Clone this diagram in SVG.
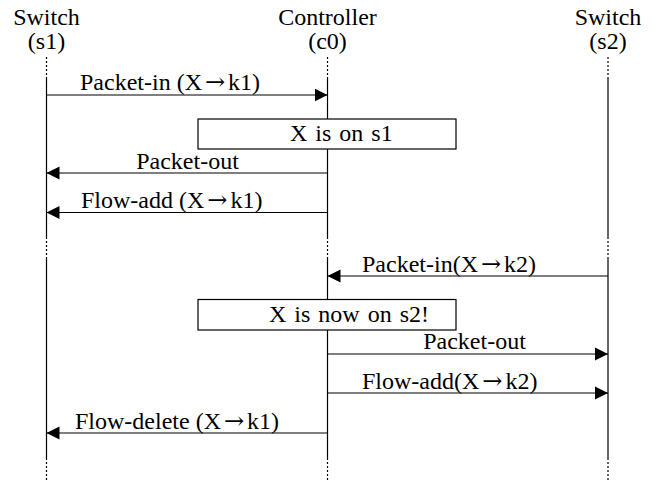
<svg xmlns="http://www.w3.org/2000/svg" width="657" height="480" viewBox="0 0 657 480">
<defs>
<style>
text{font-family:"Liberation Serif","Times New Roman",serif;font-size:24px;fill:#000}
.hd{text-anchor:middle}
.ar{font-family:"DejaVu Serif",serif;font-size:24px}
.nt{word-spacing:2px}
.life{stroke:#000;stroke-width:1.2;fill:none}
.dot{stroke:#000;stroke-width:1.2;fill:none;stroke-dasharray:2 2}
.msg{stroke:#000;stroke-width:1.2;fill:none;marker-end:url(#ah)}
.note{fill:#fff;stroke:#000;stroke-width:1.2}
</style>
<marker id="ah" markerUnits="userSpaceOnUse" markerWidth="14" markerHeight="14" viewBox="0 0 14 14" refX="13" refY="7" orient="auto">
<path d="M0,0.5 L13,7 L0,13.5 Z" fill="#000"/>
</marker>
</defs>
<rect width="657" height="480" fill="#fff"/>
<g id="s1">
<text class="hd" x="46.5" y="25">Switch</text>
<text class="hd" x="46.5" y="49">(s1)</text>
<line class="dot" x1="46.5" y1="57" x2="46.5" y2="79"/>
<line class="life" x1="46.5" y1="79" x2="46.5" y2="237"/>
<line class="dot" x1="46.5" y1="237" x2="46.5" y2="259"/>
<line class="life" x1="46.5" y1="259" x2="46.5" y2="458"/>
<line class="dot" x1="46.5" y1="458" x2="46.5" y2="480"/>
</g>
<g id="c0">
<text class="hd" x="327.5" y="25">Controller</text>
<text class="hd" x="327.5" y="49">(c0)</text>
<line class="dot" x1="327.5" y1="57" x2="327.5" y2="79"/>
<line class="life" x1="327.5" y1="79" x2="327.5" y2="237"/>
<line class="dot" x1="327.5" y1="237" x2="327.5" y2="259"/>
<line class="life" x1="327.5" y1="259" x2="327.5" y2="458"/>
<line class="dot" x1="327.5" y1="458" x2="327.5" y2="480"/>
</g>
<g id="s2">
<text class="hd" x="608" y="25">Switch</text>
<text class="hd" x="608" y="49">(s2)</text>
<line class="dot" x1="608" y1="57" x2="608" y2="79"/>
<line class="life" x1="608" y1="79" x2="608" y2="237"/>
<line class="dot" x1="608" y1="237" x2="608" y2="259"/>
<line class="life" x1="608" y1="259" x2="608" y2="458"/>
<line class="dot" x1="608" y1="458" x2="608" y2="480"/>
</g>
<g id="connectors">
<line class="msg" x1="46.5" y1="95" x2="327.5" y2="95"/>
<text x="80" y="90">Packet-in (X<tspan class="ar" dx="3">→</tspan><tspan dx="3">k1)</tspan></text>
<line class="msg" x1="327.5" y1="173" x2="46.5" y2="173"/>
<text x="187.5" y="169" text-anchor="middle">Packet-out</text>
<line class="msg" x1="327.5" y1="212.5" x2="46.5" y2="212.5"/>
<text x="81" y="208">Flow-add (X<tspan class="ar" dx="3">→</tspan><tspan dx="3">k1)</tspan></text>
<line class="msg" x1="608" y1="276" x2="327.5" y2="276"/>
<text x="362" y="271.5">Packet-in(X<tspan class="ar" dx="3">→</tspan><tspan dx="3">k2)</tspan></text>
<line class="msg" x1="327.5" y1="354" x2="608" y2="354"/>
<text x="474.5" y="349" text-anchor="middle">Packet-out</text>
<line class="msg" x1="327.5" y1="393" x2="608" y2="393"/>
<text x="362" y="389">Flow-add(X<tspan class="ar" dx="3">→</tspan><tspan dx="3">k2)</tspan></text>
<line class="msg" x1="327.5" y1="433" x2="46.5" y2="433"/>
<text x="75" y="429">Flow-delete (X<tspan class="ar" dx="3">→</tspan><tspan dx="3">k1)</tspan></text>
</g>
<g id="note1">
<rect class="note" x="198" y="119" width="258" height="30"/>
<text class="nt" x="290" y="141">X is on s1</text>
</g>
<g id="note2">
<rect class="note" x="198" y="299.5" width="258" height="30.5"/>
<text class="nt" x="269" y="322">X is now on s2!</text>
</g>
</svg>
